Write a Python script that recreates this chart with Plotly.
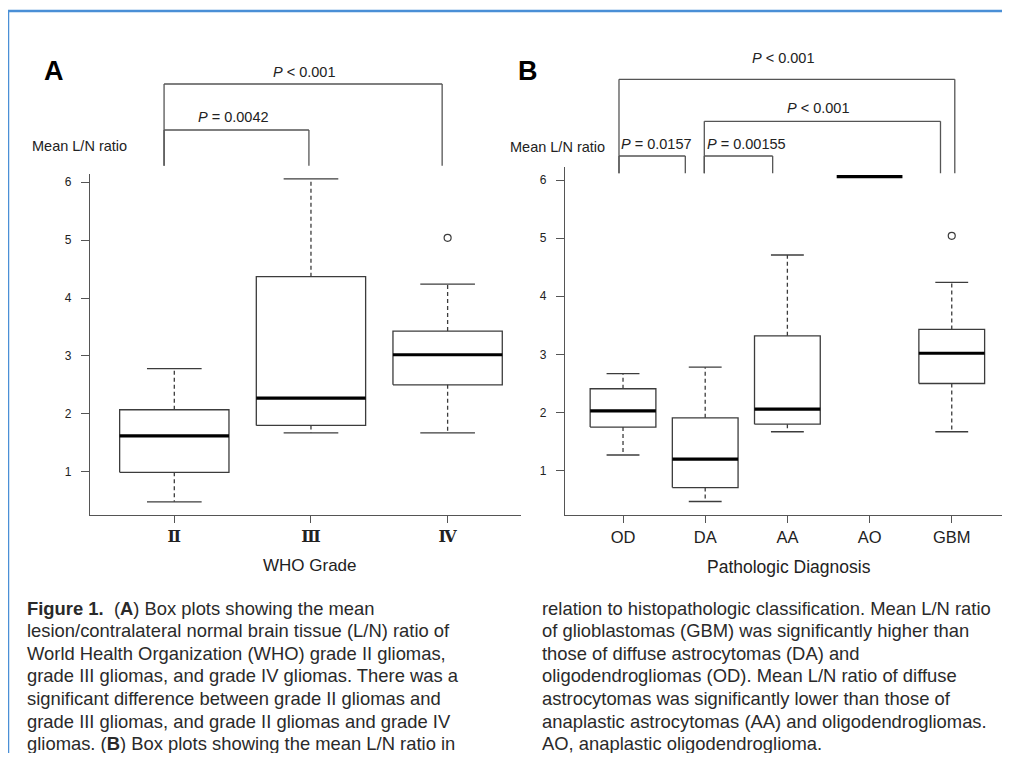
import plotly.graph_objects as go

# ---------------- data ----------------
grades = ["\u2161", "\u2162", "\u2163"]          # WHO grade II, III, IV
grade_q1 = [0.99, 1.80, 2.50]
grade_median = [1.62, 2.27, 3.02]
grade_q3 = [2.07, 4.37, 3.43]
grade_low = [0.48, 1.67, 1.67]
grade_high = [2.78, 6.06, 4.24]
grade_outliers = [[], [], [5.04]]

diagnoses = ["OD", "DA", "AA", "AO", "GBM"]
diag_q1 = [1.75, 0.71, 1.80, 6.06, 2.50]
diag_median = [2.03, 1.20, 2.06, 6.06, 3.02]
diag_q3 = [2.41, 1.91, 3.32, 6.06, 3.43]
diag_low = [1.27, 0.47, 1.67, 6.06, 1.67]
diag_high = [2.67, 2.78, 4.71, 6.06, 4.24]
diag_outliers = [[], [], [], [], [5.04]]

y_ticks = [1, 2, 3, 4, 5, 6]

caption_left = [
    "<b>Figure 1.</b>\u00a0 (<b>A</b>) Box plots showing the mean",
    "lesion/contralateral normal brain tissue (L/N) ratio of",
    "World Health Organization (WHO) grade II gliomas,",
    "grade III gliomas, and grade IV gliomas. There was a",
    "significant difference between grade II gliomas and",
    "grade III gliomas, and grade II gliomas and grade IV",
    "gliomas. (<b>B</b>) Box plots showing the mean L/N ratio in",
]
caption_right = [
    "relation to histopathologic classification. Mean L/N ratio",
    "of glioblastomas (GBM) was significantly higher than",
    "those of diffuse astrocytomas (DA) and",
    "oligodendrogliomas (OD). Mean L/N ratio of diffuse",
    "astrocytomas was significantly lower than those of",
    "anaplastic astrocytomas (AA) and oligodendrogliomas.",
    "AO, anaplastic oligodendroglioma.",
]

# ---------------- layout helpers ----------------
# the page body has an 8px margin, so the figure starts at page pixel (8, 8)
OX, OY = 8, 8
W, H = 1002, 745
def px_x(x):
    return (x - OX) / W
def px_y(y):
    return 1 - (y - OY) / H

LINE = "#3c3c3c"
AX = "#555555"
TXT = "#222222"
FONT = "Liberation Sans, Arial, sans-serif"

fig = go.Figure()

def add_boxes(q1, med, q3, lo, hi, outl, xa, ya):
    bx, by, wx, wy, cx, cy, mx, my, ox, oy = [], [], [], [], [], [], [], [], [], []
    for i in range(len(med)):
        p = i + 1
        if q3[i] > q1[i]:
            bx += [p - 0.4, p + 0.4, p + 0.4, p - 0.4, p - 0.4, None]
            by += [q1[i], q1[i], q3[i], q3[i], q1[i], None]
        if hi[i] > q3[i]:
            wx += [p, p, None]
            wy += [q3[i], hi[i], None]
            cx += [p - 0.2, p + 0.2, None]
            cy += [hi[i], hi[i], None]
        if lo[i] < q1[i]:
            wx += [p, p, None]
            wy += [q1[i], lo[i], None]
            cx += [p - 0.2, p + 0.2, None]
            cy += [lo[i], lo[i], None]
        mx += [p - 0.4, p + 0.4, None]
        my += [med[i], med[i], None]
        for v in outl[i]:
            ox.append(p)
            oy.append(v)
    common = dict(xaxis=xa, yaxis=ya, hoverinfo="skip", showlegend=False)
    fig.add_trace(go.Scatter(x=wx, y=wy, mode="lines",
                             line=dict(color=LINE, width=1.3, dash="4px,3px"), **common))
    fig.add_trace(go.Scatter(x=cx, y=cy, mode="lines",
                             line=dict(color=LINE, width=1.3), **common))
    fig.add_trace(go.Scatter(x=bx, y=by, mode="lines",
                             line=dict(color=LINE, width=1.3), **common))
    fig.add_trace(go.Scatter(x=mx, y=my, mode="lines",
                             line=dict(color="#000000", width=3.2), **common))
    fig.add_trace(go.Scatter(x=ox, y=oy, mode="markers",
                             marker=dict(symbol="circle-open", size=7, color=LINE,
                                         line=dict(color=LINE, width=1.2)), **common))

add_boxes(grade_q1, grade_median, grade_q3, grade_low, grade_high, grade_outliers, "x", "y")
add_boxes(diag_q1, diag_median, diag_q3, diag_low, diag_high, diag_outliers, "x2", "y2")

axis_common = dict(showline=True, linecolor=AX, linewidth=1.3, ticks="outside",
                   tickcolor=AX, tickwidth=1.2, showgrid=False, zeroline=False,
                   fixedrange=True)

fig.update_layout(
    width=W, height=H,
    margin=dict(l=0, r=0, t=0, b=0),
    paper_bgcolor="white", plot_bgcolor="white",
    font=dict(family=FONT, color=TXT),
    showlegend=False,
    xaxis=dict(domain=[px_x(90), px_x(521)], range=[0.383, 3.537], anchor="y",
               tickvals=[1, 2, 3], ticktext=["<b>%s</b>" % g for g in grades], ticklen=7,
               tickfont=dict(family="DejaVu Serif, serif", size=16, color=TXT),
               ticklabelstandoff=0, **axis_common),
    yaxis=dict(domain=[px_y(515), px_y(174)], range=[0.252, 6.143], anchor="x",
               tickvals=y_ticks, ticklen=8, tickfont=dict(size=12, color=TXT),
               ticklabelstandoff=7, **axis_common),
    xaxis2=dict(domain=[px_x(565), px_x(1002.7)], range=[0.294, 5.62], anchor="y2",
                tickvals=[1, 2, 3, 4, 5], ticktext=diagnoses, ticklen=7,
                tickfont=dict(size=16.5, color=TXT), ticklabelstandoff=0, **axis_common),
    yaxis2=dict(domain=[px_y(515), px_y(166.7)], range=[0.238, 6.229], anchor="x2",
                tickvals=y_ticks, ticklen=8, tickfont=dict(size=12, color=TXT),
                ticklabelstandoff=7, **axis_common),
)

# ---------------- significance brackets ----------------
def bracket(xref, x0, x1, ytop, ybot0, ybot1):
    st = dict(xref=xref, yref="paper", type="line", line=dict(color=AX, width=1.3))
    fig.add_shape(x0=x0, x1=x1, y0=px_y(ytop), y1=px_y(ytop), **st)
    fig.add_shape(x0=x0, x1=x0, y0=px_y(ytop), y1=px_y(ybot0), **st)
    fig.add_shape(x0=x1, x1=x1, y0=px_y(ytop), y1=px_y(ybot1), **st)

bracket("x", 0.925, 2.96, 84, 165.7, 165.7)
bracket("x", 0.925, 1.985, 130, 165.7, 165.7)
bracket("x2", 0.951, 5.037, 79.3, 173.3, 173.3)
bracket("x2", 1.989, 4.863, 121.3, 173.3, 173.3)
bracket("x2", 0.951, 1.758, 156, 173.3, 173.3)
bracket("x2", 1.989, 2.821, 156, 173.3, 173.3)

# ---------------- text ----------------
def txt(text, x, y, size, xanchor="center", color=TXT, family=FONT):
    fig.add_annotation(text=text, x=px_x(x), y=px_y(y), xref="paper", yref="paper",
                       xanchor=xanchor, yanchor="middle", showarrow=False,
                       font=dict(size=size, color=color, family=family))

txt("<b>A</b>", 54, 71, 27, color="#000000")
txt("<b>B</b>", 528, 71, 27, color="#000000")

txt("<i>P</i> &lt; 0.001", 304, 71.7, 14.5)
txt("<i>P</i> = 0.0042", 233, 117, 14.5)
txt("<i>P</i> &lt; 0.001", 782.7, 58.3, 14.5)
txt("<i>P</i> &lt; 0.001", 818, 108.3, 14.5)
txt("<i>P</i> = 0.0157", 619, 144, 14.5, xanchor="left")
txt("<i>P</i> = 0.00155", 705, 144, 14.5, xanchor="left")

txt("Mean L/N ratio", 30, 146, 14.5, xanchor="left")
txt("Mean L/N ratio", 508, 146.7, 14.5, xanchor="left")

txt("WHO Grade", 310, 565.7, 17)
txt("Pathologic Diagnosis", 789, 566.7, 17.5)

line_y = [608, 630.6, 653.2, 675.8, 698.4, 721, 743.4]
for s, yy in zip(caption_left, line_y):
    txt(s, 25, yy, 18.4, xanchor="left", color="#2a2a2a")
for s, yy in zip(caption_right, line_y):
    txt(s, 540, yy, 18.4, xanchor="left", color="#2a2a2a")

# ---------------- blue frame ----------------
BLUE = "#4a8fd6"
fig.add_shape(type="line", xref="paper", yref="paper", x0=px_x(7), x1=1,
              y0=px_y(11), y1=px_y(11), line=dict(color=BLUE, width=2.5))
fig.add_shape(type="line", xref="paper", yref="paper", x0=px_x(8), x1=px_x(8),
              y0=px_y(10), y1=0, line=dict(color=BLUE, width=2.5))

fig.write_html("out.html")
